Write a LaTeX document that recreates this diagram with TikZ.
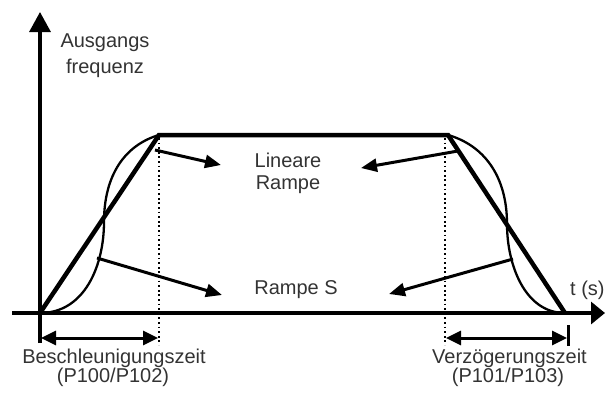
\documentclass[tikz,border=0pt]{standalone}
\usepackage{fontspec}
\setmainfont{Liberation Sans}
\usetikzlibrary{arrows.meta}
\definecolor{txt}{HTML}{333333}
\tikzset{
  lbl/.style={inner sep=0pt, text=txt, font=\fontsize{20}{24}\selectfont},
  axisline/.style={line width=3.2pt},
  ramp/.style={line width=4.5pt, line join=miter},
  scurve/.style={line width=2.3pt},
  guide/.style={line width=1.8pt, dash pattern=on 1.8pt off 2.8pt},
  pointer/.style={line width=3pt, -{Triangle[length=16pt,width=13pt]}},
  span/.style={line width=3pt, {Triangle[length=15pt,width=14pt]}-{Triangle[length=15pt,width=14pt]}}
}
\begin{document}
\begin{tikzpicture}[x=1pt,y=-1pt]
\useasboundingbox (0,0) rectangle (605,392);
% key points
\coordinate (O) at (40,313);
\coordinate (A) at (159,135);
\coordinate (B) at (448,135);
\coordinate (E) at (565,313);
\coordinate (M1) at (104,222);
\coordinate (M2) at (507,224);
\coordinate (ybot) at (40,343);
\coordinate (ytop) at (40,12);
\coordinate (xl) at (12,313);
\coordinate (xr) at (605,313);
% axes
\draw[axisline, -{Triangle[length=20pt,width=21pt]}] (ybot) -- (ytop);
\draw[axisline, -{Triangle[length=14pt,width=22pt]}] (xl) -- (xr);
% dotted guides
\coordinate (g1t) at (159,138); \coordinate (g1b) at (159,345);
\coordinate (g2t) at (445,138); \coordinate (g2b) at (445,345);
\draw[guide] (g1t) -- (g1b);
\draw[guide] (g2t) -- (g2b);
% linear ramp
\draw[ramp] (O) -- (A) -- (B) -- (E);
% S ramps
\draw[scurve] (O) .. controls (85,313) and (104,265) .. (M1)
              .. controls (104,175) and (125,145) .. (A);
\draw[scurve] (B) .. controls (483,145) and (507,175) .. (M2)
              .. controls (507,265) and (525,313) .. (E);
% labels
\node[lbl] (ausg) at (105,43) {Ausgangs};
\node[lbl] (freq) at (105,68) {frequenz};
\node[lbl] (lin) at (288,160) {Lineare};
\node[lbl] (rampe) at (288,185) {Rampe};
\node[lbl] (rs) at (296,290) {Rampe S};
\node[lbl, anchor=west] (ts) at (570,290) {t (s)};
\node[lbl] (besch) at (114,358) {Beschleunigungszeit};
\node[lbl] (p1) at (113,377) {(P100/P102)};
\node[lbl] (verz) at (509.5,358) {Verzögerungszeit};
\node[lbl] (p2) at (508,377) {(P101/P103)};
% pointers
\coordinate (s1) at (155,150); \coordinate (t1) at (221,165);
\coordinate (s2) at (97,258);  \coordinate (t2) at (222,295);
\coordinate (s3) at (458,151); \coordinate (t3) at (361,168);
\coordinate (s4) at (513,259); \coordinate (t4) at (389,294);
\draw[pointer] (s1) -- (t1);
\draw[pointer] (s2) -- (t2);
\draw[pointer] (s3) -- (t3);
\draw[pointer] (s4) -- (t4);
% time spans
\coordinate (d1a) at (41,338); \coordinate (d1b) at (158,338);
\coordinate (d2a) at (446,338); \coordinate (d2b) at (567,338);
\draw[span] (d1a) -- (d1b);
\draw[span] (d2a) -- (d2b);
\coordinate (bt) at (568.5,325); \coordinate (bb) at (568.5,346);
\draw[axisline] (bt) -- (bb);
\end{tikzpicture}
\end{document}
